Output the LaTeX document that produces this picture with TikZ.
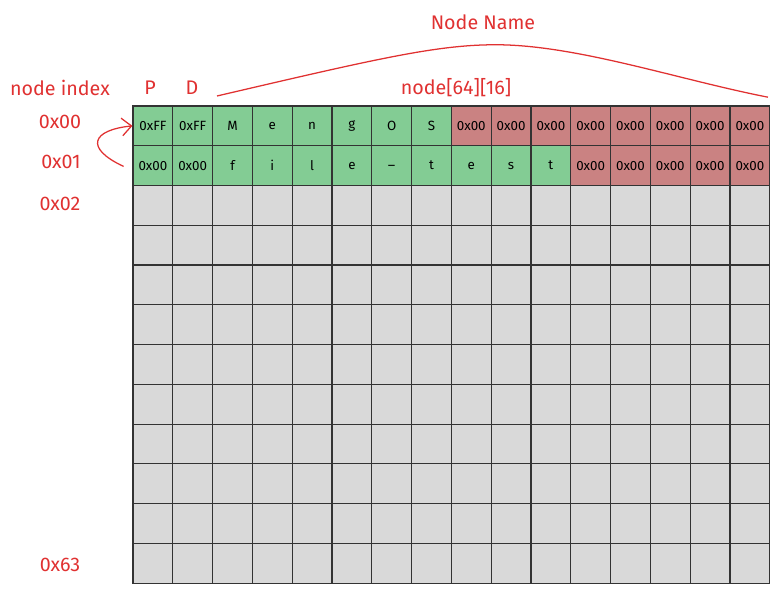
\documentclass[tikz,border=0pt]{standalone}
\usepackage{fontspec}
\setmainfont{Fira Sans}
\usepackage{xcolor}
\usepackage{tikz}
\usetikzlibrary{calc,arrows.meta,positioning}
\definecolor{lblred}{HTML}{E03131}
\definecolor{cellgreen}{HTML}{83CC94}
\definecolor{cellred}{HTML}{CA8282}
\definecolor{cellgray}{HTML}{D9D9D9}
\definecolor{gridline}{HTML}{333333}
\tikzset{
  cell/.style={draw=gridline,line width=0.8pt,minimum width=0.995cm,minimum height=0.994cm,inner sep=0pt,font=\fontsize{9.5}{11}\selectfont},
  okcell/.style={cell,fill=cellgreen},
  nilcell/.style={cell,fill=cellred},
  freecell/.style={cell,fill=cellgray},
  lbl/.style={text=lblred,font=\fontsize{14}{16}\selectfont}
}
\begin{document}
\begin{tikzpicture}
 	\useasboundingbox (0,0) rectangle (19.5,-14.85);
 	\begin{scope}[shift={(3.325,-2.65)},x=0.995cm,y=-0.994cm]
 	\foreach \r in {2,...,11}
 	  \foreach \c in {0,...,15}
 	    \node[freecell] (c-\r-\c) at (\c+0.5,\r+0.5) {};
 	\foreach \t [count=\c from 0] in {0xFF,0xFF,M,e,n,g,O,S}
 	  \node[okcell] (c-0-\c) at (\c+0.5,0.5) {\t};
 	\foreach \c in {8,...,15}
 	  \node[nilcell] (c-0-\c) at (\c+0.5,0.5) {0x00};
 	\foreach \t [count=\c from 0] in {0x00,0x00,f,i,l,e,\_,t,e,s,t}
 	  \node[okcell] (c-1-\c) at (\c+0.5,1.5) {\t};
 	\foreach \c in {11,...,15}
 	  \node[nilcell] (c-1-\c) at (\c+0.5,1.5) {0x00};
 	\end{scope}
 	\node[lbl] (title) at (12.075,-0.55) {Node Name};
 	\node[lbl] (index) at (1.5,-2.2) {node index};
 	\node[lbl] (colP) at (3.75,-2.2) {P};
 	\node[lbl] (colD) at (4.8,-2.2) {D};
 	\node[lbl] (array) at (11.4,-2.2) {node[64][16]};
 	\node[lbl] (row0) at (1.5,-3.05) {0x00};
 	\node[lbl] (row1) at (1.525,-4.05) {0x01};
 	\node[lbl] (row2) at (1.5,-5.1) {0x02};
 	\node[lbl] (row63) at (1.5,-14.125) {0x63};
 	\coordinate (nameL) at (5.425,-2.4);
 	\coordinate (nameTop) at (12.5,-1.12);
 	\coordinate (nameR) at (19.2,-2.43);
 	\draw[lblred,line width=0.9pt] (nameL) .. controls (9.5,-1.45) and (11,-1.1) .. (nameTop) .. controls (14.5,-1.15) and (17,-2.0) .. (nameR);
 	\draw[lblred,line width=0.9pt,-{Straight Barb[length=2.4mm,width=4.4mm]}] ($(c-1-0.west)+(-0.22,-0.02)$) .. controls (2.1,-3.7) and (2.3,-3.25) .. (c-0-0.west);
\end{tikzpicture}
\end{document}
